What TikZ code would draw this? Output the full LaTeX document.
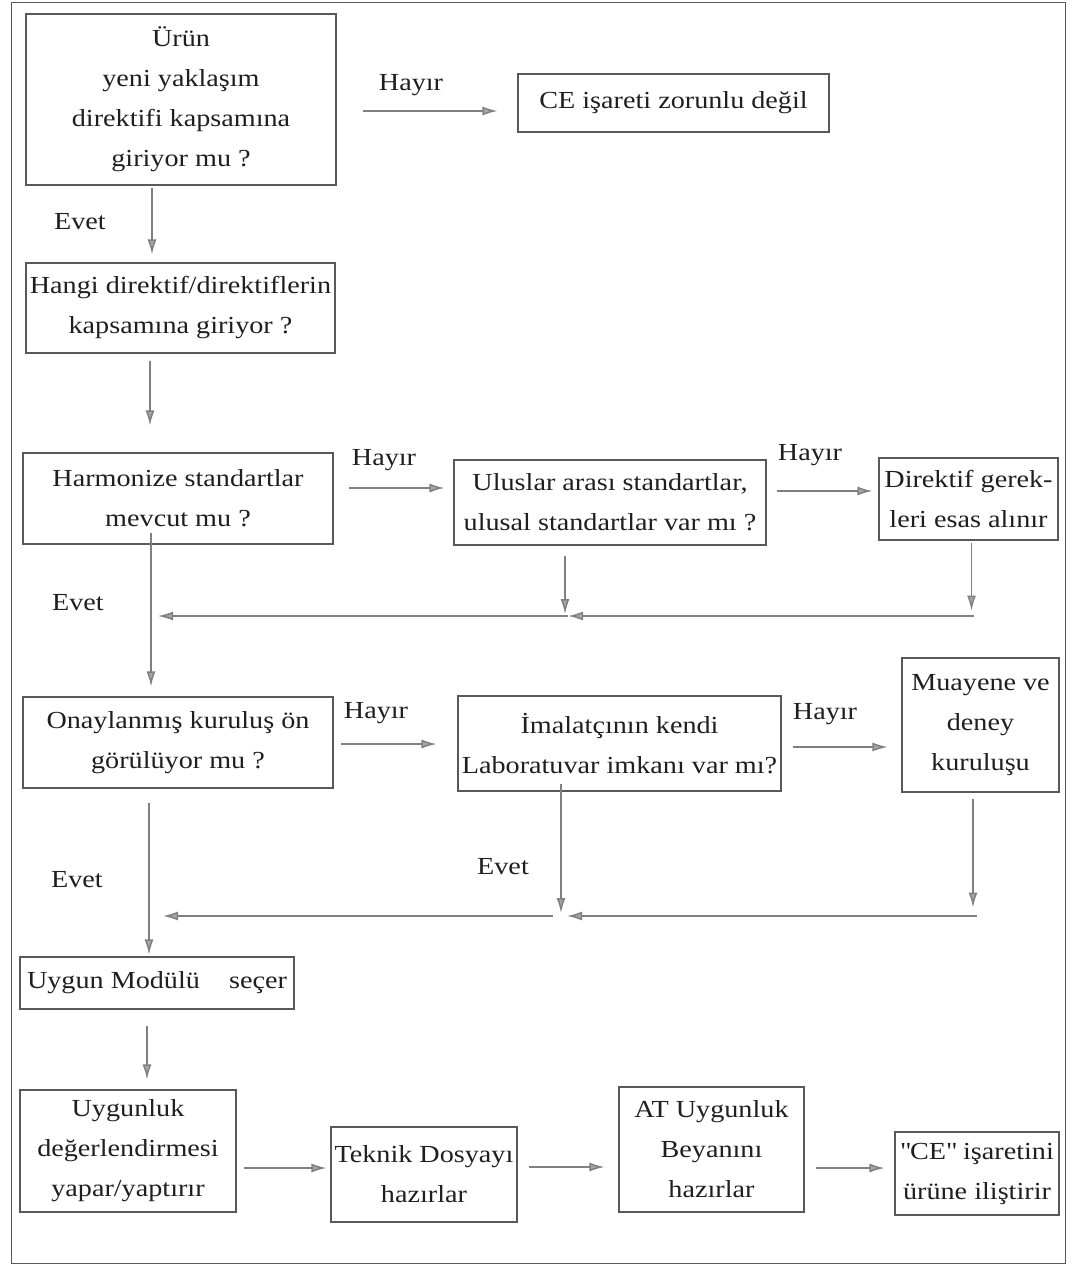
\documentclass[tikz,border=0pt]{standalone}
\usepackage{fontspec}
\setmainfont[FakeStretch=1.15]{Liberation Serif}
\usetikzlibrary{arrows.meta}
\definecolor{boxc}{gray}{0.35}
\definecolor{arrc}{gray}{0.5}
\definecolor{txtc}{gray}{0.12}
\tikzset{
  box/.style={draw=boxc, line width=1.1pt, align=center, inner sep=0pt, text=txtc,
    font=\fontsize{24.5}{40}\selectfont},
  lbl/.style={text=txtc, inner sep=0pt, font=\fontsize{24.5}{40}\selectfont},
  arr/.style={draw=arrc, line width=1.5pt, -{Latex[length=15pt,width=9pt,fill=arrc!70]}},
  ln/.style={draw=arrc, line width=1.5pt}
}
\begin{document}
\begin{tikzpicture}[x=1pt,y=-1pt]
\useasboundingbox (0,0) rectangle (1071,1269);
\draw[boxc, line width=1pt] (11,2) rectangle (1065,1263);

% boxes
\node[box, minimum width=310pt, minimum height=171pt] (b1) at (181,99.5)
  {Ürün\\yeni yaklaşım\\direktifi kapsamına\\giriyor mu ?};
\node[box, minimum width=311pt, minimum height=58pt] (ce) at (673.5,103)
  {CE işareti zorunlu değil};
\node[box, minimum width=309pt, minimum height=90pt] (b2) at (180.5,308)
  {Hangi direktif/direktiflerin\\kapsamına giriyor ?};
\node[box, minimum width=310pt, minimum height=91pt] (b3) at (178,498.5)
  {Harmonize standartlar\\mevcut mu ?};
\node[box, minimum width=312pt, minimum height=85pt] (b4) at (610,502.5)
  {Uluslar arası standartlar,\\ulusal standartlar var mı ?};
\node[box, minimum width=179pt, minimum height=82pt] (b5) at (968.5,499)
  {Direktif gerek-\\leri esas alınır};
\node[box, minimum width=310pt, minimum height=91pt] (b6) at (178,742.5)
  {Onaylanmış kuruluş ön\\görülüyor mu ?};
\node[box, minimum width=323pt, minimum height=95pt] (b7) at (619.5,743.5)
  {İmalatçının kendi\\Laboratuvar imkanı var mı?};
\node[box, minimum width=157pt, minimum height=134pt] (b8) at (980.5,725)
  {Muayene ve\\deney\\kuruluşu};
\node[box, minimum width=274pt, minimum height=52pt] (b9) at (157,983)
  {Uygun Modülü\hspace{0.9em} seçer};
\node[box, minimum width=216pt, minimum height=122pt] (b10) at (128,1151)
  {Uygunluk\\değerlendirmesi\\yapar/yaptırır};
\node[box, minimum width=186pt, minimum height=95pt] (b11) at (424,1174.5)
  {Teknik Dosyayı\\hazırlar};
\node[box, minimum width=185pt, minimum height=125pt] (b12) at (711.5,1149.5)
  {AT Uygunluk\\Beyanını\\hazırlar};
\node[box, minimum width=164pt, minimum height=83pt] (b13) at (977,1173.5)
  {\textquotedbl CE\textquotedbl\ işaretini\\ürüne iliştirir};

% labels
\node[lbl] (h1) at (411,85) {Hayır};
\node[lbl] (e1) at (80,222) {Evet};
\node[lbl] (h2) at (384,460) {Hayır};
\node[lbl] (h3) at (810,455) {Hayır};
\node[lbl] (e2) at (78,603) {Evet};
\node[lbl] (h4) at (376,713) {Hayır};
\node[lbl] (h5) at (825,714) {Hayır};
\node[lbl] (e3) at (503,867) {Evet};
\node[lbl] (e4) at (77,880) {Evet};

% junction coordinates
\coordinate (v1) at (565,614);
\coordinate (j1) at (568,616);
\coordinate (r1) at (974,616);
\coordinate (l1) at (158,616);
\coordinate (v2) at (561,913);
\coordinate (j2) at (567,916);
\coordinate (k2) at (553,916);
\coordinate (r2) at (977,916);
\coordinate (l2) at (163,916);

% arrows
\draw[arr] ([shift={(26,11.5)}]b1.east) -- ([shift={(-20,8)}]ce.west);
\draw[arr] ([shift={(-29,2)}]b1.south) -- ([shift={(-28.5,-8)}]b2.north);
\draw[arr] ([shift={(-30.5,7)}]b2.south) -- ([shift={(-28,-27)}]b3.north);
\draw[arr] ([shift={(15,-10.5)}]b3.east) -- ([shift={(-9,-14.5)}]b4.west);
\draw[arr] ([shift={(10,-11.5)}]b4.east) -- ([shift={(-6,-8)}]b5.west);
\draw[arr] ([shift={(-27,-12)}]b3.south) -- ([shift={(-27,-10)}]b6.north);
\draw[arr] ([shift={(-45,10)}]b4.south) -- (v1);
\draw[arr] ([shift={(3,2)}]b5.south) -- ([shift={(3,70)}]b5.south);
\draw[arr] (r1) -- (j1);
\draw[arr] (j1) -- (l1);

\draw[arr] ([shift={(7,1.5)}]b6.east) -- ([shift={(-21,0.5)}]b7.west);
\draw[arr] ([shift={(11,3.5)}]b7.east) -- ([shift={(-14,22)}]b8.west);
\draw[arr] ([shift={(-58.5,-8)}]b7.south) -- (v2);
\draw[arr] ([shift={(-7.5,6)}]b8.south) -- ([shift={(-7.5,115)}]b8.south);
\draw[arr] (r2) -- (j2);
\draw[arr] (k2) -- (l2);
\draw[arr] ([shift={(-29,14)}]b6.south) -- ([shift={(-8,-2)}]b9.north);
\draw[arr] ([shift={(-10,16)}]b9.south) -- ([shift={(19,-10)}]b10.north);

\draw[arr] ([shift={(7,17)}]b10.east) -- ([shift={(-4,-6.5)}]b11.west);
\draw[arr] ([shift={(11,-7.5)}]b11.east) -- ([shift={(-14,17.5)}]b12.west);
\draw[arr] ([shift={(11,18.5)}]b12.east) -- ([shift={(-10,-5.5)}]b13.west);
\end{tikzpicture}
\end{document}
